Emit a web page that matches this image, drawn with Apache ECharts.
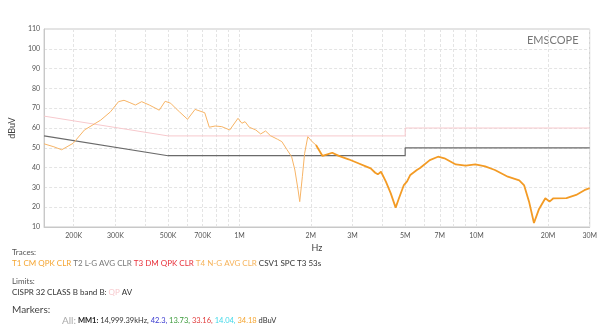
<!DOCTYPE html>
<html><head><meta charset="utf-8">
<script src="https://cdn.jsdelivr.net/npm/echarts@6/dist/echarts.min.js"></script>
<style>html,body{margin:0;padding:0;background:#fff}#c{width:600px;height:329px}</style>
</head><body><div id="c"></div>
<script>
// Frequencies in MHz, levels in dBuV
const traceLowFreq = [0.150,0.165,0.178,0.199,0.222,0.260,0.286,0.309,0.326,0.345,0.364,0.387,0.417,0.459,0.486,0.513,0.538,0.558,0.604,0.650,0.714,0.746,0.790,0.842,0.910,0.986,1.024,1.056,1.100,1.172,1.229,1.289,1.352,1.448,1.510,1.584,1.660,1.713,1.767,1.796,1.842,1.883,1.942,1.962,2.025,2.103];
const traceLowLevel = [52,50.5,49,52.3,59,64,68.2,73.3,74,72.8,71.6,73.3,71.6,69,73.5,72.5,70,68.2,64.4,69.4,67.7,60.4,61,60.7,59,64.9,62.4,63.2,60.4,59,57,58.5,56.1,54.3,53.1,49.2,45.5,38.8,28.7,22.8,35.4,47.2,55.6,56.5,53.1,51.4];
const traceHighFreq = [2.103,2.241,2.348,2.462,2.624,2.885,3.171,3.431,3.577,3.737,3.833,3.954,4.146,4.347,4.558,4.707,4.937,5.094,5.256,5.60,5.778,6.351,6.876,7.322,8.178,8.994,9.887,10.87,11.95,13.55,15.14,15.88,16.65,17.46,18.30,19.50,20.31,21.09,23.94,26.31,28.49,30];
const traceHighLevel = [51.4,45.9,46.7,47.5,45.9,44.2,42.2,40.5,39.6,37.4,36.6,37.9,32.9,27,19.8,24.5,31.2,33,36.3,38.8,39.8,43.8,45.5,44.7,41.6,41,41.6,40.6,38.8,35.4,33.5,31,22.8,12,18.8,24.5,22.8,24.5,24.6,26.2,28.6,29.6];
const limitQPFreq = [0.15,0.5,5,5,30];
const limitQPLevel = [66,56,56,60,60];
const limitAVFreq = [0.15,0.5,5,5,30];
const limitAVLevel = [56,46,46,50,50];
const gridFreqs = [0.2,0.3,0.4,0.5,0.6,0.7,0.8,0.9,1,2,3,4,5,6,7,8,9,10,20,30];
const labelFreqs = [0.2,0.3,0.5,0.7,1,2,3,5,7,10,20,30];

const MHZ = 1e6;
const toPairs = (f, v) => f.map((x, i) => [x * MHZ, v[i]]);
const fmt = v => { const m = v / MHZ; return m >= 1 ? Math.round(m) + 'M' : Math.round(m * 1000) + 'K'; };

const FONT = 'Lato';
const FS = '8px ';
const chart = echarts.init(document.getElementById('c'), null, {renderer: 'canvas'});
chart.setOption({
  animation: false,
  textStyle: {fontFamily: FONT},
  grid: {left: 38, right: 2, top: 29, bottom: 102, show: true, borderColor: '#c8c8c8', borderWidth: 1},
  xAxis: {
    type: 'log', logBase: 10, min: 0.15 * MHZ, max: 30 * MHZ,
    name: 'Hz', nameLocation: 'middle', nameGap: 12,
    nameTextStyle: {color: '#444', fontSize: 9, fontFamily: FONT},
    axisLine: {show: true, lineStyle: {color: '#c8c8c8'}},
    axisTick: {show: false, customValues: gridFreqs.map(f => f * MHZ)},
    axisLabel: {customValues: labelFreqs.map(f => f * MHZ), formatter: fmt, color: '#555', fontSize: 7, margin: 5, showMinLabel: true, showMaxLabel: true},
    splitLine: {show: true, lineStyle: {color: '#e4e4e4', type: [3, 2], width: 1}},
    minorSplitLine: {show: false}
  },
  yAxis: {
    type: 'value', min: 10, max: 110, interval: 10,
    name: 'dBuV', nameLocation: 'middle', nameGap: 12,
    nameTextStyle: {color: '#444', fontSize: 9, fontFamily: FONT},
    axisLine: {show: true, lineStyle: {color: '#c8c8c8'}},
    axisTick: {show: false},
    axisLabel: {color: '#555', fontSize: 7, margin: 4},
    splitLine: {show: true, lineStyle: {color: '#e4e4e4', type: [3, 2], width: 1}}
  },
  series: [
    {type: 'line', name: 'QP', data: toPairs(limitQPFreq, limitQPLevel), showSymbol: false, lineStyle: {color: '#f7c9cd', width: 1}, z: 2},
    {type: 'line', name: 'AV', data: toPairs(limitAVFreq, limitAVLevel), showSymbol: false, lineStyle: {color: '#6a6a6a', width: 1.2}, z: 2},
    {type: 'line', name: 'T1a', data: toPairs(traceLowFreq, traceLowLevel), showSymbol: false, lineStyle: {color: '#f7b466', width: 1}, z: 3},
    {type: 'line', name: 'T1b', data: toPairs(traceHighFreq, traceHighLevel), showSymbol: false, lineStyle: {color: '#f39b25', width: 1.8}, z: 3}
  ],
  graphic: [
    {type: 'text', left: 527, top: 35, style: {text: 'EMSCOPE', fill: '#777', font: '11px ' + FONT}},
    {type: 'text', left: 12, top: 248, style: {text: 'Traces:', fill: '#555', font: FS + FONT}},
    {type: 'text', left: 12, top: 259, style: {
      text: '{a|T1 CM QPK CLR} {b|T2 L-G AVG CLR} {c|T3 DM QPK CLR} {d|T4 N-G AVG CLR} {e|CSV1 SPC T3 53s}',
      font: FS + FONT,
      rich: {
        a: {fill: '#f5a530', font: FS + FONT},
        b: {fill: '#777', font: FS + FONT},
        c: {fill: '#e8303a', font: FS + FONT},
        d: {fill: '#f6b35a', font: FS + FONT},
        e: {fill: '#333', font: FS + FONT}
      }}},
    {type: 'text', left: 12, top: 277, style: {text: 'Limits:', fill: '#555', font: FS + FONT}},
    {type: 'text', left: 12, top: 288, style: {
      text: '{a|CISPR 32 CLASS B band B:} {q|QP} {a|AV}',
      font: FS + FONT,
      rich: {a: {fill: '#333', font: FS + FONT}, q: {fill: '#f7c9cd', font: FS + FONT}}}},
    {type: 'text', left: 12, top: 305, style: {text: 'Markers:', fill: '#444', font: '10px ' + FONT}},
    {type: 'text', left: 62, top: 316, style: {
      text: '{l|All:} {m|MM1:} {t|14,999.39kHz,} {b|42.3,} {g|13.73,} {r|33.16,} {c|14.04,} {o|34.18} {t|dBuV}',
      font: '7.5px ' + FONT,
      rich: {
        l: {fill: '#aaa', font: '10px ' + FONT},
        m: {fill: '#222', font: 'bold 7.5px ' + FONT},
        t: {fill: '#333', font: '7.5px ' + FONT},
        b: {fill: '#3a3ad0', font: '7.5px ' + FONT},
        g: {fill: '#3a9a3a', font: '7.5px ' + FONT},
        r: {fill: '#e03a3a', font: '7.5px ' + FONT},
        c: {fill: '#40d8e8', font: '7.5px ' + FONT},
        o: {fill: '#f5a530', font: '7.5px ' + FONT}
      }}}
  ]
});
</script></body></html>
